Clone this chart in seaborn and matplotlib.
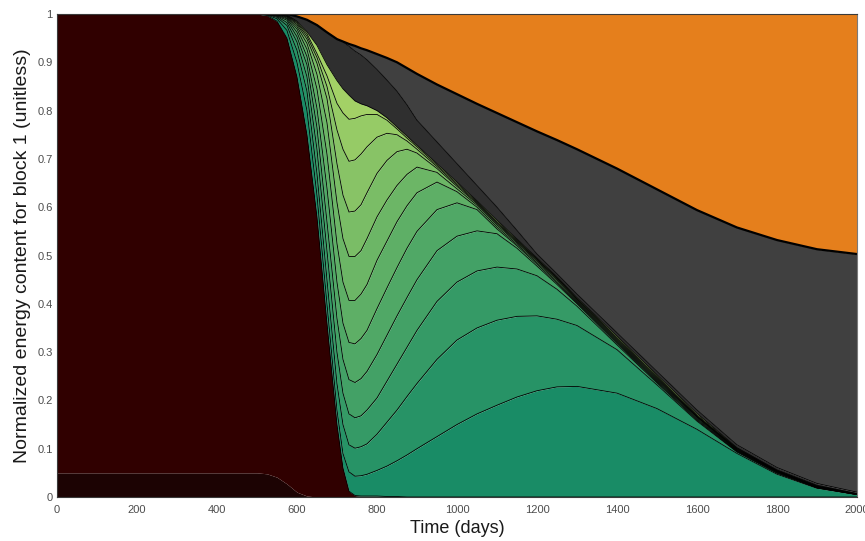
import numpy as np
import pandas as pd
import matplotlib
matplotlib.use("Agg")
import matplotlib.pyplot as plt
import seaborn as sns

# ---- data: time axis (days) ----
time_days = [0, 500, 525, 550, 575, 600, 625, 650, 675, 700, 715, 730, 745, 760, 775, 800,
             825, 850, 875, 900, 950, 1000, 1050, 1100, 1150, 1200, 1250, 1300, 1400, 1500,
             1600, 1700, 1800, 1900, 2000]

# cumulative upper boundaries of the stacked layers (bottom -> top)
bottom_dark = [0.05, 0.05, 0.048, 0.041, 0.027, 0.01, 0.002, 0, 0, 0, 0, 0, 0, 0, 0, 0,
               0, 0, 0, 0, 0, 0, 0, 0, 0, 0, 0, 0, 0, 0, 0, 0, 0, 0, 0]
maroon_top = [1, 1, 0.997, 0.985, 0.95, 0.87, 0.75, 0.58, 0.36, 0.15, 0.06, 0.012, 0.003, 0.002, 0.002, 0.002,
              0.001, 0.001, 0, 0, 0, 0, 0, 0, 0, 0, 0, 0, 0, 0, 0, 0, 0, 0, 0]
green_c10 = [1, 1, 0.998, 0.99, 0.966, 0.90, 0.80, 0.625, 0.40, 0.18, 0.09, 0.052, 0.043, 0.044, 0.047, 0.055,
             0.064, 0.075, 0.087, 0.10, 0.125, 0.15, 0.172, 0.19, 0.207, 0.22, 0.228, 0.229, 0.215, 0.183,
             0.14, 0.09, 0.047, 0.018, 0.005]
green_c9 = [1, 1, 0.999, 0.993, 0.976, 0.925, 0.84, 0.67, 0.45, 0.235, 0.15, 0.108, 0.101, 0.104, 0.11, 0.13,
            0.155, 0.18, 0.208, 0.235, 0.285, 0.325, 0.35, 0.366, 0.374, 0.375, 0.368, 0.355, 0.305, 0.232,
            0.157, 0.093, 0.049, 0.019, 0.005]
green_c8 = [1, 1, 0.999, 0.995, 0.982, 0.942, 0.87, 0.72, 0.51, 0.30, 0.215, 0.172, 0.164, 0.168, 0.18, 0.205,
            0.24, 0.275, 0.31, 0.345, 0.405, 0.445, 0.468, 0.476, 0.472, 0.458, 0.43, 0.395, 0.315, 0.236,
            0.159, 0.094, 0.050, 0.019, 0.005]
green_c7 = [1, 1, 0.999, 0.996, 0.987, 0.953, 0.895, 0.765, 0.57, 0.37, 0.285, 0.243, 0.237, 0.245, 0.26, 0.295,
            0.335, 0.375, 0.413, 0.45, 0.51, 0.54, 0.551, 0.545, 0.515, 0.478, 0.44, 0.40, 0.318, 0.238,
            0.161, 0.095, 0.051, 0.020, 0.005]
green_c6 = [1, 1, 0.999, 0.997, 0.99, 0.962, 0.912, 0.805, 0.64, 0.445, 0.36, 0.32, 0.317, 0.328, 0.345, 0.39,
            0.433, 0.475, 0.515, 0.55, 0.595, 0.609, 0.595, 0.555, 0.52, 0.482, 0.443, 0.402, 0.320, 0.240,
            0.163, 0.096, 0.052, 0.020, 0.005]
green_c5 = [1, 1, 1, 0.998, 0.992, 0.969, 0.927, 0.845, 0.71, 0.525, 0.445, 0.407, 0.407, 0.42, 0.44, 0.49,
            0.53, 0.57, 0.603, 0.63, 0.652, 0.632, 0.60, 0.559, 0.523, 0.485, 0.446, 0.404, 0.322, 0.242,
            0.165, 0.097, 0.053, 0.021, 0.006]
green_c4 = [1, 1, 1, 0.998, 0.994, 0.974, 0.939, 0.875, 0.775, 0.61, 0.535, 0.498, 0.498, 0.51, 0.535, 0.58,
            0.615, 0.645, 0.668, 0.683, 0.672, 0.638, 0.604, 0.563, 0.526, 0.488, 0.449, 0.406, 0.324, 0.244,
            0.166, 0.098, 0.053, 0.021, 0.006]
green_c3 = [1, 1, 1, 0.999, 0.995, 0.978, 0.948, 0.898, 0.825, 0.69, 0.625, 0.59, 0.592, 0.605, 0.63, 0.67,
            0.697, 0.715, 0.72, 0.712, 0.68, 0.643, 0.607, 0.566, 0.528, 0.490, 0.451, 0.408, 0.326, 0.246,
            0.167, 0.099, 0.054, 0.022, 0.006]
green_c2 = [1, 1, 1, 0.999, 0.996, 0.981, 0.954, 0.91, 0.85, 0.76, 0.72, 0.695, 0.698, 0.71, 0.725, 0.745,
            0.753, 0.75, 0.737, 0.72, 0.684, 0.646, 0.609, 0.568, 0.530, 0.492, 0.453, 0.410, 0.328, 0.248,
            0.168, 0.100, 0.054, 0.022, 0.006]
green_c1 = [1, 1, 1, 0.999, 0.997, 0.983, 0.959, 0.918, 0.872, 0.815, 0.795, 0.782, 0.784, 0.789, 0.792, 0.792,
            0.78, 0.762, 0.743, 0.725, 0.687, 0.649, 0.611, 0.570, 0.532, 0.493, 0.454, 0.411, 0.330, 0.250,
            0.170, 0.101, 0.055, 0.023, 0.006]
green_top = [1, 1, 1, 1, 0.998, 0.985, 0.963, 0.935, 0.895, 0.862, 0.845, 0.832, 0.82, 0.814, 0.81, 0.80,
             0.785, 0.766, 0.747, 0.728, 0.69, 0.652, 0.613, 0.573, 0.534, 0.495, 0.456, 0.413, 0.333, 0.253,
             0.173, 0.102, 0.056, 0.024, 0.007]
dark_band_top = [1, 1, 1, 1, 1, 0.995, 0.988, 0.977, 0.962, 0.948, 0.942, 0.933, 0.923, 0.915, 0.905, 0.885,
                 0.863, 0.84, 0.812, 0.78, 0.735, 0.69, 0.645, 0.60, 0.552, 0.503, 0.462, 0.42, 0.34, 0.26,
                 0.18, 0.108, 0.061, 0.028, 0.01]
orange_bottom = [1, 1, 1, 1, 1, 0.995, 0.988, 0.977, 0.962, 0.948, 0.943, 0.938, 0.934, 0.929, 0.925, 0.917,
                 0.909, 0.90, 0.888, 0.876, 0.854, 0.834, 0.814, 0.795, 0.776, 0.757, 0.739, 0.72, 0.68, 0.637,
                 0.594, 0.558, 0.532, 0.513, 0.503]

x_ticks = [0, 200, 400, 600, 800, 1000, 1200, 1400, 1600, 1800, 2000]
y_ticks = [0, 0.1, 0.2, 0.3, 0.4, 0.5, 0.6, 0.7, 0.8, 0.9, 1]
y_tick_labels = ["0", "0.1", "0.2", "0.3", "0.4", "0.5", "0.6", "0.7", "0.8", "0.9", "1"]

# ---- figure ----
sns.set_style("white")
plt.rcParams["font.family"] = ["Liberation Sans", "DejaVu Sans"]

fig = plt.figure(figsize=(8.65, 5.41), dpi=100)
ax = fig.add_axes([57 / 865, 1 - 497 / 541, 800 / 865, 483 / 541])

t = np.array(time_days, dtype=float)
boundaries = [
    ("bottom_dark", bottom_dark),
    ("maroon_top", maroon_top),
    ("green_c10", green_c10),
    ("green_c9", green_c9),
    ("green_c8", green_c8),
    ("green_c7", green_c7),
    ("green_c6", green_c6),
    ("green_c5", green_c5),
    ("green_c4", green_c4),
    ("green_c3", green_c3),
    ("green_c2", green_c2),
    ("green_c1", green_c1),
    ("green_top", green_top),
    ("dark_band_top", dark_band_top),
    ("orange_bottom", orange_bottom),
]

summer = plt.get_cmap("summer")
green_cols = [summer(0.1 + 0.054 * i) for i in range(11)]
layer_colors = ["#1c0303", "#300000"] + green_cols + ["#2f2f2f", "#404040", "#e57f1c"]

lower = np.zeros_like(t)
uppers = [np.array(b, dtype=float) for _, b in boundaries] + [np.ones_like(t)]
for col, up in zip(layer_colors, uppers):
    ax.fill_between(t, lower, up, color=col, linewidth=0)
    lower = up

# boundary edges via seaborn
rows = []
for name, vals in boundaries[1:]:
    for tt, vv in zip(time_days, vals):
        rows.append({"time": tt, "value": vv, "boundary": name})
df = pd.DataFrame(rows)
edge_names = [n for n, _ in boundaries[1:] if n != "orange_bottom"]
sns.lineplot(data=df[df["boundary"].isin(edge_names)], x="time", y="value",
             units="boundary", estimator=None, sort=False, color="black",
             linewidth=0.6, ax=ax, legend=False)
sns.lineplot(data=df[df["boundary"] == "orange_bottom"], x="time", y="value",
             estimator=None, sort=False, color="black", linewidth=1.6, ax=ax, legend=False)

ax.set_xlim(0, 2000)
ax.set_ylim(0, 1)
ax.set_xticks(x_ticks)
ax.set_xticklabels([str(v) for v in x_ticks])
ax.set_yticks(y_ticks)
ax.set_yticklabels(y_tick_labels)
ax.tick_params(axis="both", length=0, labelsize=8, colors="#4d4d4d")
ax.tick_params(axis="x", pad=6)
ax.tick_params(axis="y", pad=3)
ax.set_xlabel("Time (days)", fontsize=13, color="#1a1a1a", labelpad=3.5)
ax.set_ylabel("Normalized energy content for block 1 (unitless)", fontsize=14,
              color="#1a1a1a", labelpad=5)
for s in ax.spines.values():
    s.set_visible(True)
    s.set_color("#3a3a3a")
    s.set_linewidth(0.8)
ax.spines["right"].set_color("#7a7a7a")

fig.savefig("out.png", dpi=100)
